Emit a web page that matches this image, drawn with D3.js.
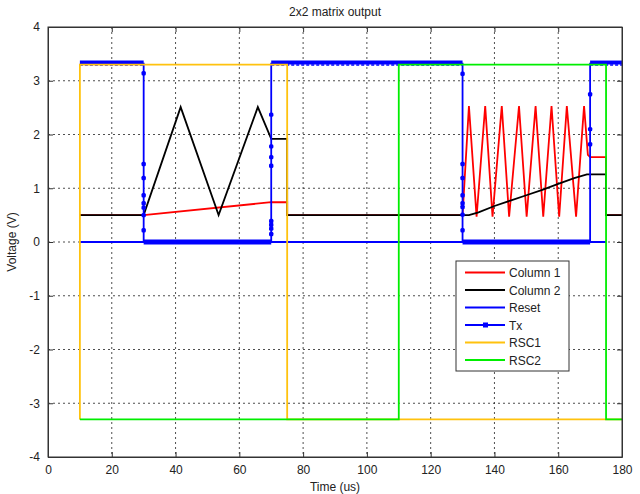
<!DOCTYPE html>
<html>
<head>
<meta charset="utf-8">
<script src="https://cdn.jsdelivr.net/npm/d3@7/dist/d3.min.js"></script>
<style>
  body { margin: 0; background: #fff; }
  text { font-family: "Liberation Sans", Arial, sans-serif; fill: #222; }
  .grid line { stroke: #222; stroke-dasharray: 2,3; stroke-width: 0.8; }
</style>
</head>
<body>
<div id="chart"></div>
<script>
// series values, [time (us), voltage (V)]
const column1 = [[10, 0.5], [30, 0.5], [70, 0.74], [75, 0.74], [75, 0.5], [130, 0.5],
  [132, 2.53], [134.4, 0.47], [137.1, 2.53], [139.4, 0.47], [142.3, 2.53], [144.6, 0.47],
  [147.7, 2.53], [150.1, 0.47], [152.9, 2.53], [155.3, 0.47], [157.9, 2.53], [160.3, 0.47],
  [162.7, 2.53], [165.6, 0.47], [168.1, 2.53], [169.3, 1.62], [170, 1.58], [175, 1.58],
  [175, 0.5], [180, 0.5]];
const column2 = [[10, 0.5], [30, 0.5], [41.6, 2.51], [53.5, 0.5], [65.8, 2.51], [70, 1.92],
  [75, 1.92], [75, 0.5], [130, 0.5], [132, 0.5], [135, 0.55], [140, 0.67], [145, 0.77],
  [150, 0.87], [155, 0.97], [160, 1.08], [165, 1.19], [169, 1.26], [175, 1.26], [175, 0.5],
  [180, 0.5]];
const reset = [[10, 0], [175, 0]];
const tx = [[10, 3.32], [30, 3.32], [30, 3.14], [30, 1.45], [30, 1.19], [30, 0.87], [30, 0.72],
  [30, 0.64], [30, 0.5], [30, 0.22], [30, 0], [70, 0], [70, 0.15], [70, 0.25], [70, 0.32],
  [70, 0.39], [70, 1.42], [70, 1.58], [70, 1.78], [70, 2.37], [70, 3.32], [130, 3.32],
  [130, 3.13], [130, 1.45], [130, 1.19], [130, 0.87], [130, 0.72], [130, 0.65], [130, 0.51],
  [130, 0.22], [130, 0], [170, 0], [170, 1.82], [170, 2.1], [170, 2.75], [170, 3.32], [180, 3.32]];
const rsc1 = [[10, -3.3], [10, 3.3], [75, 3.3], [75, -3.3], [180, -3.3]];
const rsc2 = [[10, -3.3], [110, -3.3], [110, 3.3], [175, 3.3], [175, -3.3], [180, -3.3]];

const xTicks = [0, 20, 40, 60, 80, 100, 120, 140, 160, 180];
const yTicks = [-4, -3, -2, -1, 0, 1, 2, 3, 4];
const legendNames = ['Column 1', 'Column 2', 'Reset', 'Tx', 'RSC1', 'RSC2'];
const colors = ['#ff0000', '#000000', '#0000ff', '#0000ff', '#ffc20e', '#00ee00'];

const W = 640, H = 494;
const margin = { top: 27, right: 18, bottom: 37, left: 48 };
const width = W - margin.left - margin.right,
  height = H - margin.top - margin.bottom;

const svg = d3.select('#chart').append('svg')
  .attr('width', W)
  .attr('height', H);

const g = svg.append('g')
  .attr('transform', `translate(${margin.left},${margin.top})`);

const x = d3.scaleLinear().domain([0, 180]).range([0, width]);
const y = d3.scaleLinear().domain([-4, 4]).range([height, 0]);

// grid
const grid = g.append('g').attr('class', 'grid');
grid.selectAll('.gx').data(xTicks.slice(1, -1)).enter().append('line')
  .attr('x1', (d) => x(d)).attr('x2', (d) => x(d))
  .attr('y1', 0).attr('y2', height);
grid.selectAll('.gy').data(yTicks.slice(1, -1)).enter().append('line')
  .attr('y1', (d) => y(d)).attr('y2', (d) => y(d))
  .attr('x1', 0).attr('x2', width);

const line = d3.line()
  .x((d) => x(d[0]))
  .y((d) => y(d[1]));

const series = [column1, column2, reset, tx, rsc1, rsc2];
const plot = g.append('g');

series.forEach((s, i) => {
  if (i === 3) {
    // Tx: densely sampled flat parts show up as a thick band
    for (let k = 0; k < s.length - 1; k++) {
      const a = s[k], b = s[k + 1];
      if (a[1] === b[1] && a[0] !== b[0]) {
        if (a[1] > 1) {
          plot.append('path').datum([a, b]).attr('d', line)
            .attr('fill', 'none').attr('stroke', colors[i]).attr('stroke-width', 3)
            .attr('transform', 'translate(0,-1.5)');
          plot.append('path').datum([a, b]).attr('d', line)
            .attr('fill', 'none').attr('stroke', colors[i]).attr('stroke-width', 1.6)
            .attr('stroke-dasharray', '3,2')
            .attr('transform', 'translate(0,1.5)');
        } else {
          plot.append('path').datum([a, b]).attr('d', line)
            .attr('fill', 'none').attr('stroke', colors[i]).attr('stroke-width', 5);
        }
      }
    }
    plot.append('path').datum(s).attr('d', line)
      .attr('fill', 'none').attr('stroke', colors[i]).attr('stroke-width', 1.8);
    plot.selectAll('.txm').data(s.filter((d) => d[1] > 0.05 && d[1] < 3.2)).enter()
      .append('rect')
      .attr('x', (d) => x(d[0]) - 2.2).attr('y', (d) => y(d[1]) - 2.2)
      .attr('width', 4.4).attr('height', 4.4).attr('rx', 1.5)
      .attr('fill', colors[i]);
  } else {
    plot.append('path').datum(s).attr('d', line)
      .attr('fill', 'none')
      .attr('stroke', colors[i])
      .attr('stroke-width', 1.8);
  }
});

// axes frame
g.append('rect').attr('width', width).attr('height', height)
  .attr('fill', 'none').attr('stroke', '#333').attr('stroke-width', 1);

const fmt = (d) => String(d);
g.append('g')
  .attr('transform', `translate(0,${height})`)
  .call(d3.axisBottom(x).tickValues(xTicks).tickFormat(fmt)
    .tickSizeInner(-5).tickSizeOuter(0).tickPadding(8));
g.append('g')
  .call(d3.axisLeft(y).tickValues(yTicks).tickFormat(fmt)
    .tickSizeInner(-5).tickSizeOuter(0).tickPadding(8));
g.append('g')
  .call(d3.axisTop(x).tickValues(xTicks).tickSizeInner(-5).tickSizeOuter(0).tickFormat(''));
g.append('g').attr('transform', `translate(${width},0)`)
  .call(d3.axisRight(y).tickValues(yTicks).tickSizeInner(-5).tickSizeOuter(0).tickFormat(''));

g.selectAll('.domain').attr('stroke', '#333');
g.selectAll('.tick line').attr('stroke', '#333');
g.selectAll('.tick text').style('font-size', '12px').attr('fill', '#222')
  .style('font-family', '"Liberation Sans", Arial, sans-serif');

// titles
svg.append('text').attr('x', margin.left + width / 2).attr('y', 16)
  .attr('text-anchor', 'middle').style('font-size', '12px').text('2x2 matrix output');
svg.append('text').attr('x', margin.left + width / 2).attr('y', 491)
  .attr('text-anchor', 'middle').style('font-size', '12px').text('Time (us)');
svg.append('text')
  .attr('transform', `translate(16,${margin.top + height / 2}) rotate(-90)`)
  .attr('text-anchor', 'middle').style('font-size', '12px').text('Voltage (V)');

// legend
const lg = svg.append('g').attr('transform', 'translate(456,261)');
lg.append('rect').attr('width', 113).attr('height', 110)
  .attr('fill', '#fff').attr('stroke', '#333').attr('stroke-width', 1);
legendNames.forEach((name, i) => {
  const ly = 11.5 + i * 17.5;
  lg.append('line').attr('x1', 9).attr('x2', 49).attr('y1', ly).attr('y2', ly)
    .attr('stroke', colors[i]).attr('stroke-width', 1.8);
  if (name === 'Tx') {
    lg.append('rect').attr('x', 27).attr('y', ly - 2.5).attr('width', 5).attr('height', 5)
      .attr('fill', colors[i]);
  }
  lg.append('text').attr('x', 53).attr('y', ly + 4.5)
    .style('font-size', '12px').text(name);
});
</script>
</body>
</html>
